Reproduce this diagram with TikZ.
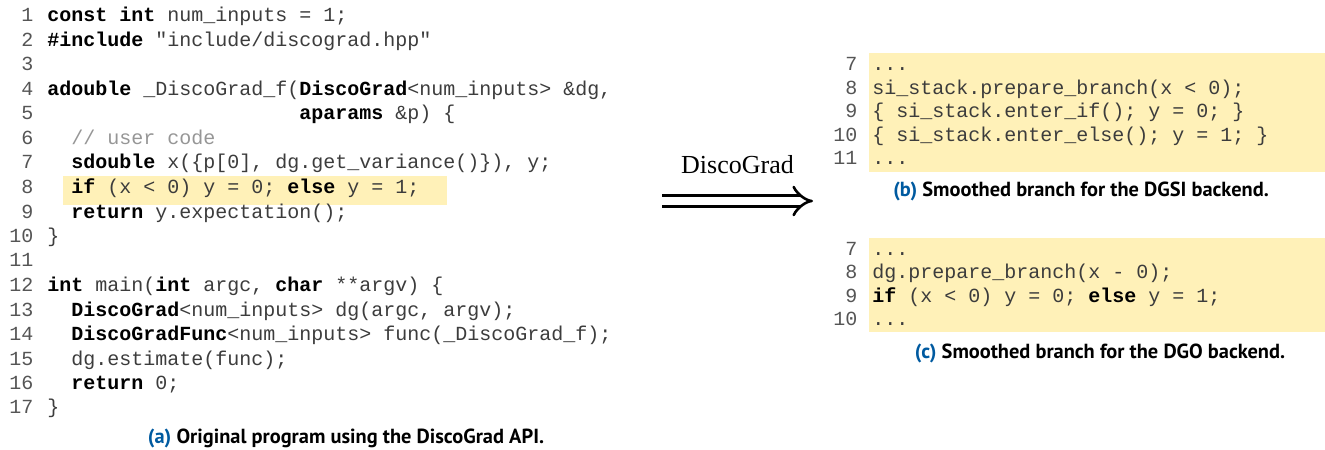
\documentclass[tikz,border=0pt]{standalone}
\usepackage{fontspec}
\usepackage{array}
\setmainfont{Liberation Serif}
\newfontfamily\codefont{Liberation Mono}
\newfontfamily\capfont{PT Sans}
\usetikzlibrary{arrows.meta,positioning}
\definecolor{hlyellow}{RGB}{255,241,184}
\definecolor{capblue}{RGB}{0,90,160}
\definecolor{codegray}{RGB}{60,60,60}
\definecolor{numgray}{RGB}{85,85,85}
\definecolor{cmtgray}{RGB}{150,150,150}
\newcommand{\kw}[1]{\textcolor{black}{\bfseries #1}}
\newcommand{\ind}[1]{\hspace*{#1\dimexpr0.6em\relax}}
\newcommand{\subcap}[2]{{\color{capblue}(#1)}~#2}

\begin{document}
\begin{tikzpicture}[
  x=0.5pt, y=-0.5pt,
  listing/.style = {inner sep=0pt, anchor=base west,
                    font={\codefont\fontsize{10pt}{12.25pt}\selectfont}},
  listingr/.style = {listing, font={\codefont\fontsize{10pt}{11.75pt}\selectfont}},
  highlight/.style = {fill=hlyellow, draw=none},
  caption/.style = {inner sep=0pt, font={\capfont\bfseries\fontsize{10.2pt}{12pt}\selectfont}},
  dglabel/.style = {inner sep=0pt, font={\fontsize{13pt}{15pt}\selectfont}},
  implarrow/.style = {double, double distance=4pt, line width=1.3pt,
                      -{Implies[length=9pt, width=17pt]}}
]
\useasboundingbox (0,0) rectangle (1325,449);

% highlighted lines
\fill[highlight] (63,176) rectangle (447,205);
\fill[highlight] (869,53) rectangle (1325,172);
\fill[highlight] (869,238) rectangle (1325,332);

% (a) original program
\node[listing] (codeA) at (9,22) {%
\begin{tabular}[t]{@{}>{\color{numgray}}r@{\hspace{7pt}}>{\color{codegray}}l@{}}
1 & \kw{const int} num\_inputs = 1;\\
2 & \kw{\#include} "include/discograd.hpp"\\
3 & \\
4 & \kw{adouble} \_DiscoGrad\_f(\kw{DiscoGrad}<num\_inputs> \&dg,\\
5 & \ind{21}\kw{aparams} \&p) \{\\
6 & \ind{2}\textcolor{cmtgray}{// user code}\\
7 & \ind{2}\kw{sdouble} x(\{p[0], dg.get\_variance()\}), y;\\
8 & \ind{2}\kw{if} (x < 0) y = 0; \kw{else} y = 1;\\
9 & \ind{2}\kw{return} y.expectation();\\
10 & \}\\
11 & \\
12 & \kw{int} main(\kw{int} argc, \kw{char} **argv) \{\\
13 & \ind{2}\kw{DiscoGrad}<num\_inputs> dg(argc, argv);\\
14 & \ind{2}\kw{DiscoGradFunc}<num\_inputs> func(\_DiscoGrad\_f);\\
15 & \ind{2}dg.estimate(func);\\
16 & \ind{2}\kw{return} 0;\\
17 & \}
\end{tabular}};

% (b) DGSI backend
\node[listingr] (codeB) at (833,71) {%
\begin{tabular}[t]{@{}>{\color{numgray}}r@{\hspace{7.5pt}}>{\color{codegray}}l@{}}
7 & ...\\
8 & si\_stack.prepare\_branch(x < 0);\\
9 & \{ si\_stack.enter\_if(); y = 0; \}\\
10 & \{ si\_stack.enter\_else(); y = 1; \}\\
11 & ...
\end{tabular}};

% (c) DGO backend
\node[listingr] (codeC) at (833,255) {%
\begin{tabular}[t]{@{}>{\color{numgray}}r@{\hspace{7.5pt}}>{\color{codegray}}l@{}}
7 & ...\\
8 & dg.prepare\_branch(x - 0);\\
9 & \kw{if} (x < 0) y = 0; \kw{else} y = 1;\\
10 & ...
\end{tabular}};

% captions
\node[caption] (capA) at (346,438) {\subcap{a}{Original program using the DiscoGrad API.}};
\node[caption] (capB) at (1081,191) {\subcap{b}{Smoothed branch for the DGSI backend.}};
\node[caption] (capC) at (1100,353) {\subcap{c}{Smoothed branch for the DGO backend.}};

% transformation arrow
\coordinate (arrowTail) at (662,201);
\coordinate (arrowHead) at (813,201);
\draw[implarrow] (arrowTail) -- node[dglabel, above=13pt] (dgLabel) {DiscoGrad} (arrowHead);

\end{tikzpicture}
\end{document}
